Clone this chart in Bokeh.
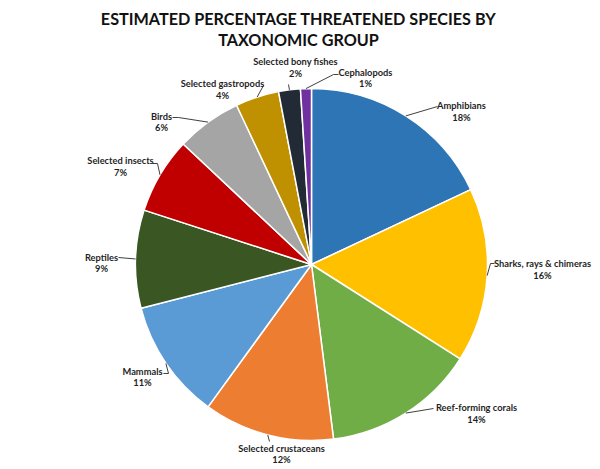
import math

from bokeh.core.properties import value
from bokeh.embed import file_html
from bokeh.models import ColumnDataSource, Range1d
from bokeh.plotting import figure
from bokeh.resources import INLINE

# ---- data -------------------------------------------------------------
groups = [
    "Amphibians",
    "Sharks, rays & chimeras",
    "Reef-forming corals",
    "Selected crustaceans",
    "Mammals",
    "Reptiles",
    "Selected insects",
    "Birds",
    "Selected gastropods",
    "Selected bony fishes",
    "Cephalopods",
]
percent = [18, 16, 14, 12, 11, 9, 7, 6, 4, 2, 1]

colors = [
    "#2E75B6", "#FFC000", "#70AD47", "#ED7D31", "#5B9BD5", "#3A5623",
    "#C00000", "#A5A5A5", "#BF9000", "#222A35", "#7030A0",
]

title_lines = ["ESTIMATED PERCENTAGE THREATENED SPECIES BY", "TAXONOMIC GROUP"]

# ---- layout (page pixels, y measured downward) ------------------------
W, H = 600, 469
CX, CY, R = 311, 264, 176

# label centre x, name-line y, percent-line y, leader points next to the text
label_layout = [
    (461, 105, 117, [(437, 106)]),
    (542, 263, 275, [(494, 263), (490, 263)]),
    (476, 407, 419, [(433, 408)]),
    (281, 448, 459, [(269, 441)]),
    (142, 371, 382, [(163, 373), (168, 373)]),
    (101, 257, 268, [(118, 257)]),
    (120, 160, 172, [(152, 163), (157, 163)]),
    (161, 116, 127, [(172, 117), (178, 117)]),
    (222, 83, 95, [(263, 85)]),
    (295, 61, 73, [(288, 84)]),
    (365, 72, 83, [(338, 74), (333, 74)]),
]

FONT = "Lato"
TEXT_COLOR = "#1f1f1f"


def fy(y):
    """Convert a downward page coordinate into the plot's upward y."""
    return H - y


p = figure(
    width=W, height=H,
    x_range=Range1d(0, W), y_range=Range1d(0, H),
    output_backend="svg", toolbar_location=None,
    min_border=0, outline_line_color=None,
)
p.axis.visible = False
p.grid.visible = False
p.background_fill_color = "white"
p.border_fill_color = "white"

# ---- wedges, clockwise from 12 o'clock ---------------------------------
total = float(sum(percent))
starts, ends, mids = [], [], []
acc = 0.0
for v in percent:
    a0 = acc / total * 2 * math.pi
    acc += v
    a1 = acc / total * 2 * math.pi
    starts.append(math.pi / 2 - a1)
    ends.append(math.pi / 2 - a0)
    mids.append((a0 + a1) / 2)

pie = ColumnDataSource(dict(
    group=groups, percent=percent, color=colors,
    start=starts, end=ends,
))
p.wedge(
    x=CX, y=fy(CY), radius=R,
    start_angle="start", end_angle="end", direction="anticlock",
    fill_color="color", line_color="white", line_width=1.5,
    source=pie,
)

# ---- leader lines: from the label to the slice's mid-angle on the rim --
lead_xs, lead_ys = [], []
for mid, (_, _, _, pts) in zip(mids, label_layout):
    rx = CX + R * math.sin(mid)
    ry = CY - R * math.cos(mid)
    xs = [pt[0] for pt in pts] + [rx]
    ys = [fy(pt[1]) for pt in pts] + [fy(ry)]
    lead_xs.append(xs)
    lead_ys.append(ys)
p.multi_line(xs=lead_xs, ys=lead_ys, line_color="#404040", line_width=1)

# ---- data labels --------------------------------------------------------
labels = ColumnDataSource(dict(
    x=[l[0] for l in label_layout],
    y_name=[fy(l[1]) for l in label_layout],
    y_pct=[fy(l[2]) for l in label_layout],
    name=groups,
    pct=[f"{v}%" for v in percent],
))
for ycol, col in (("y_name", "name"), ("y_pct", "pct")):
    p.text(
        x="x", y=ycol, text=col, source=labels,
        text_font=value(FONT), text_font_style="bold", text_font_size="9.3px",
        text_color=TEXT_COLOR, text_align="center", text_baseline="middle",
    )

# ---- title --------------------------------------------------------------
p.text(
    x=[298, 298], y=[fy(18), fy(39)], text=title_lines,
    text_font=value(FONT), text_font_style="bold", text_font_size="16.2px",
    text_color="#111111", text_align="center", text_baseline="middle",
)

open("out.html", "w").write(file_html(p, INLINE))
